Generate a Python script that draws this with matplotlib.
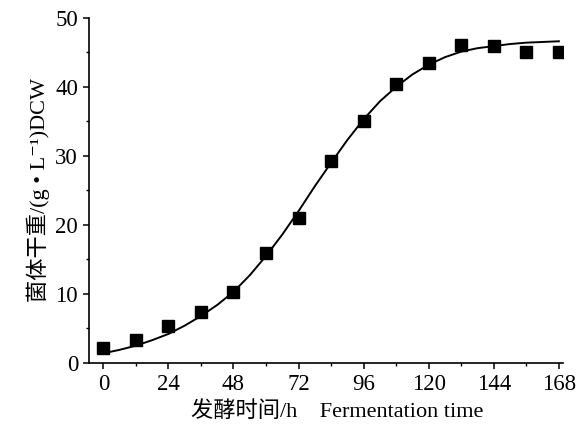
import matplotlib
matplotlib.use("Agg")
import matplotlib.pyplot as plt
from matplotlib.ticker import MultipleLocator

plt.rcParams["font.family"] = ["Liberation Serif", "Noto Sans CJK SC", "DejaVu Serif"]

# ---- Datos -----------------------------------------------------------------
t_obs = [0, 12, 24, 36, 48, 60, 72, 84, 96, 108, 120, 132, 144, 156, 168]
dcw_obs = [2.1, 3.3, 5.3, 7.4, 10.3, 16.0, 21.0, 29.2, 35.0, 40.4, 43.5, 46.0, 45.9, 45.1, 45.0]

t_fit = [0, 6, 12, 18, 24, 30, 36, 42, 48, 54, 60, 66, 72, 78, 84,
         90, 96, 102, 108, 114, 120, 126, 132, 138, 144, 150, 156, 162, 168]
dcw_fit = [1.4, 1.9, 2.5, 3.3, 4.2, 5.4, 6.8, 8.4, 10.3, 12.7, 15.5, 18.6, 22.0, 25.6, 29.0,
           32.3, 35.3, 37.9, 40.0, 41.8, 43.2, 44.3, 45.1, 45.6, 45.9, 46.2, 46.4, 46.5, 46.6]

xticks = [0, 24, 48, 72, 96, 120, 144, 168]

# ---- Figura ----------------------------------------------------------------
fig = plt.figure(figsize=(5.87, 4.24), dpi=100)
ax = fig.add_axes([0.152, 0.144, 0.807, 0.814])

ax.plot(t_fit, dcw_fit, color="black", lw=1.4, zorder=2)
ax.plot(t_obs, dcw_obs, ls="none", marker="s", ms=8, color="black", zorder=3)

ax.set_xlim(-5.2, 169.5)
ax.set_ylim(0, 50)
ax.set_xticks(xticks)
ax.xaxis.set_minor_locator(MultipleLocator(12))
ax.yaxis.set_major_locator(MultipleLocator(10))
ax.yaxis.set_minor_locator(MultipleLocator(5))

for s in ["top", "right"]:
    ax.spines[s].set_visible(False)
for s in ["left", "bottom"]:
    ax.spines[s].set_linewidth(1.2)

ax.tick_params(which="major", direction="out", length=4, width=1.1, labelsize=16.5, pad=4)
ax.tick_params(which="minor", direction="out", length=2.5, width=1.0)

ax.set_xlabel("发酵时间/h    Fermentation time", fontsize=16)
ax.xaxis.set_label_coords(0.523, -0.112)
ax.set_ylabel("菌体干重/(g • L⁻¹)DCW", fontsize=16, labelpad=4)

fig.savefig("out.png", dpi=100)
